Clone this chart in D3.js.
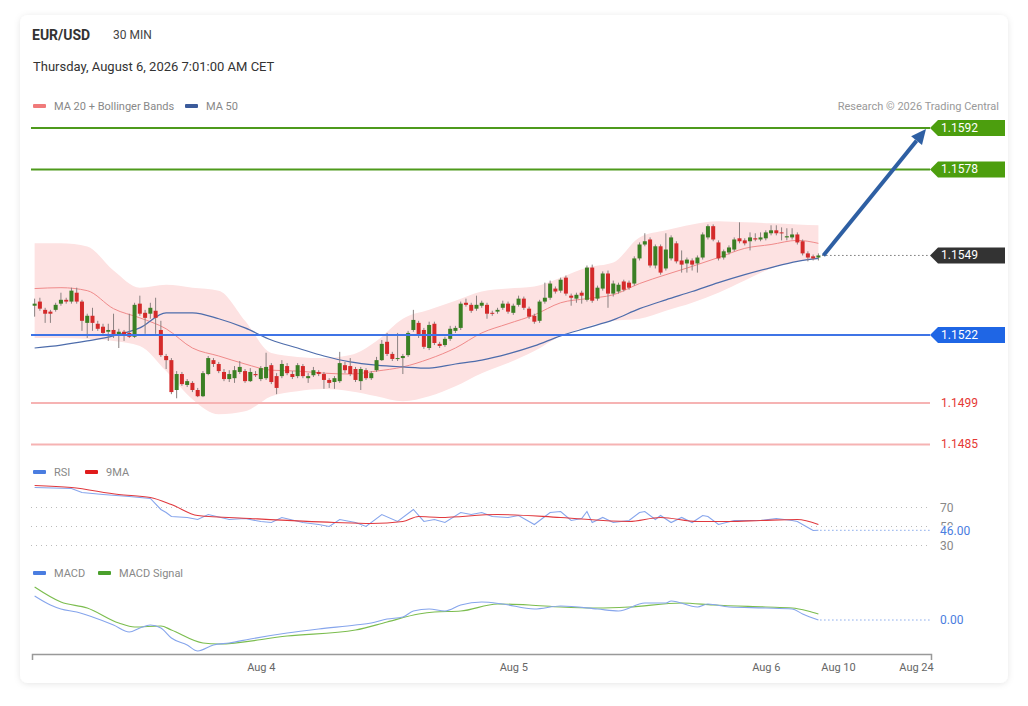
<!DOCTYPE html>
<html>
<head>
<meta charset="utf-8">
<script src="https://cdn.jsdelivr.net/npm/d3@7"></script>
<style>
  body { margin: 0; background: #fff; font-family: Roboto, "Liberation Sans", Arial, sans-serif; }
  svg { display: block; }
</style>
</head>
<body>
<svg class="chart" width="1028" height="706"></svg>
<script>
// 30 min candles, first one Aug 3 02:30
let opens = [
  1.15319, 1.15333, 1.15305, 1.15299, 1.15305, 1.15326, 1.15339, 1.15333, 1.15363, 1.15333,
  1.15261, 1.15285, 1.15258, 1.15248, 1.15231, 1.15237, 1.15220, 1.15231, 1.15227, 1.15214,
  1.15326, 1.15295, 1.15292, 1.15302, 1.15237, 1.15149, 1.15135, 1.15034, 1.15088, 1.15051,
  1.15058, 1.15034, 1.15013, 1.15088, 1.15135, 1.15122, 1.15095, 1.15071, 1.15074, 1.15095,
  1.15098, 1.15064, 1.15088, 1.15071, 1.15074, 1.15118, 1.15081, 1.15081, 1.15115, 1.15088,
  1.15081, 1.15115, 1.15074, 1.15084, 1.15095, 1.15088, 1.15068, 1.15061, 1.15064, 1.15118,
  1.15115, 1.15105, 1.15064, 1.15101, 1.15074, 1.15101, 1.15135, 1.15197, 1.15156, 1.15139,
  1.15142, 1.15152, 1.15237, 1.15261, 1.15237, 1.15176, 1.15258, 1.15190, 1.15186, 1.15207,
  1.15234, 1.15244, 1.15329, 1.15322, 1.15309, 1.15319, 1.15322, 1.15295, 1.15299, 1.15312,
  1.15326, 1.15295, 1.15322, 1.15343, 1.15309, 1.15285, 1.15268, 1.15333, 1.15346, 1.15377,
  1.15370, 1.15414, 1.15353, 1.15343, 1.15363, 1.15339, 1.15448, 1.15343, 1.15377, 1.15428,
  1.15360, 1.15367, 1.15401, 1.15397, 1.15394, 1.15479, 1.15526, 1.15543, 1.15455, 1.15520,
  1.15445, 1.15479, 1.15530, 1.15472, 1.15462, 1.15472, 1.15462, 1.15482, 1.15550, 1.15588,
  1.15533, 1.15482, 1.15499, 1.15509, 1.15547, 1.15540, 1.15537, 1.15547, 1.15543, 1.15547,
  1.15564, 1.15574, 1.15567, 1.15550, 1.15550, 1.15560, 1.15537, 1.15496, 1.15486, 1.15482
];
let highs = [
  1.15343, 1.15346, 1.15312, 1.15305, 1.15329, 1.15363, 1.15346, 1.15380, 1.15380, 1.15339,
  1.15292, 1.15312, 1.15268, 1.15258, 1.15258, 1.15292, 1.15241, 1.15237, 1.15292, 1.15329,
  1.15353, 1.15305, 1.15329, 1.15346, 1.15268, 1.15156, 1.15142, 1.15098, 1.15095, 1.15071,
  1.15064, 1.15041, 1.15098, 1.15149, 1.15142, 1.15129, 1.15105, 1.15101, 1.15115, 1.15132,
  1.15105, 1.15108, 1.15098, 1.15115, 1.15160, 1.15125, 1.15091, 1.15135, 1.15125, 1.15098,
  1.15125, 1.15122, 1.15091, 1.15112, 1.15101, 1.15095, 1.15074, 1.15081, 1.15163, 1.15129,
  1.15142, 1.15112, 1.15112, 1.15108, 1.15098, 1.15146, 1.15203, 1.15227, 1.15163, 1.15227,
  1.15156, 1.15234, 1.15305, 1.15268, 1.15244, 1.15265, 1.15265, 1.15197, 1.15214, 1.15251,
  1.15251, 1.15333, 1.15343, 1.15329, 1.15353, 1.15336, 1.15329, 1.15302, 1.15312, 1.15336,
  1.15333, 1.15326, 1.15353, 1.15350, 1.15316, 1.15292, 1.15339, 1.15397, 1.15404, 1.15384,
  1.15414, 1.15421, 1.15360, 1.15363, 1.15370, 1.15455, 1.15458, 1.15387, 1.15435, 1.15438,
  1.15404, 1.15397, 1.15407, 1.15404, 1.15486, 1.15533, 1.15564, 1.15550, 1.15526, 1.15526,
  1.15564, 1.15557, 1.15537, 1.15506, 1.15482, 1.15479, 1.15489, 1.15567, 1.15594, 1.15594,
  1.15540, 1.15509, 1.15523, 1.15550, 1.15601, 1.15547, 1.15567, 1.15564, 1.15567, 1.15574,
  1.15591, 1.15591, 1.15584, 1.15581, 1.15581, 1.15567, 1.15543, 1.15503, 1.15492, 1.15496
];
let lows = [
  1.15282, 1.15302, 1.15261, 1.15261, 1.15299, 1.15319, 1.15326, 1.15326, 1.15326, 1.15234,
  1.15210, 1.15234, 1.15234, 1.15220, 1.15200, 1.15210, 1.15176, 1.15200, 1.15210, 1.15210,
  1.15285, 1.15224, 1.15275, 1.15224, 1.15146, 1.15105, 1.15020, 1.15006, 1.15048, 1.15044,
  1.15027, 1.15010, 1.15010, 1.15084, 1.15112, 1.15091, 1.15064, 1.15061, 1.15058, 1.15088,
  1.15058, 1.15061, 1.15078, 1.15064, 1.15068, 1.15054, 1.15020, 1.15074, 1.15084, 1.15071,
  1.15074, 1.15074, 1.15058, 1.15078, 1.15081, 1.15038, 1.15041, 1.15038, 1.15058, 1.15091,
  1.15081, 1.15061, 1.15034, 1.15068, 1.15068, 1.15095, 1.15132, 1.15149, 1.15132, 1.15132,
  1.15088, 1.15146, 1.15231, 1.15210, 1.15173, 1.15169, 1.15186, 1.15176, 1.15180, 1.15200,
  1.15227, 1.15237, 1.15316, 1.15295, 1.15302, 1.15312, 1.15275, 1.15285, 1.15292, 1.15305,
  1.15292, 1.15288, 1.15316, 1.15305, 1.15275, 1.15258, 1.15261, 1.15326, 1.15339, 1.15360,
  1.15363, 1.15353, 1.15319, 1.15329, 1.15326, 1.15333, 1.15329, 1.15336, 1.15370, 1.15312,
  1.15350, 1.15360, 1.15367, 1.15373, 1.15387, 1.15472, 1.15520, 1.15448, 1.15445, 1.15424,
  1.15438, 1.15472, 1.15462, 1.15431, 1.15431, 1.15438, 1.15431, 1.15475, 1.15543, 1.15537,
  1.15472, 1.15475, 1.15492, 1.15503, 1.15530, 1.15523, 1.15506, 1.15537, 1.15537, 1.15540,
  1.15557, 1.15557, 1.15540, 1.15540, 1.15543, 1.15526, 1.15489, 1.15469, 1.15472, 1.15472
];
let closes = [
  1.15326, 1.15309, 1.15292, 1.15292, 1.15322, 1.15339, 1.15333, 1.15370, 1.15333, 1.15268,
  1.15285, 1.15261, 1.15241, 1.15227, 1.15237, 1.15217, 1.15231, 1.15217, 1.15214, 1.15322,
  1.15292, 1.15278, 1.15312, 1.15278, 1.15152, 1.15135, 1.15027, 1.15088, 1.15054, 1.15064,
  1.15034, 1.15013, 1.15091, 1.15142, 1.15122, 1.15098, 1.15071, 1.15088, 1.15101, 1.15112,
  1.15064, 1.15095, 1.15084, 1.15108, 1.15112, 1.15061, 1.15041, 1.15122, 1.15091, 1.15078,
  1.15118, 1.15081, 1.15081, 1.15101, 1.15088, 1.15068, 1.15058, 1.15074, 1.15125, 1.15101,
  1.15088, 1.15068, 1.15105, 1.15074, 1.15091, 1.15135, 1.15190, 1.15156, 1.15139, 1.15142,
  1.15149, 1.15227, 1.15271, 1.15217, 1.15180, 1.15254, 1.15193, 1.15183, 1.15207, 1.15241,
  1.15244, 1.15326, 1.15322, 1.15302, 1.15322, 1.15329, 1.15292, 1.15292, 1.15305, 1.15326,
  1.15299, 1.15319, 1.15343, 1.15312, 1.15282, 1.15265, 1.15333, 1.15346, 1.15394, 1.15367,
  1.15407, 1.15360, 1.15346, 1.15356, 1.15353, 1.15448, 1.15336, 1.15380, 1.15428, 1.15360,
  1.15394, 1.15390, 1.15373, 1.15380, 1.15479, 1.15526, 1.15537, 1.15455, 1.15520, 1.15431,
  1.15509, 1.15550, 1.15469, 1.15458, 1.15475, 1.15458, 1.15482, 1.15560, 1.15588, 1.15543,
  1.15479, 1.15503, 1.15516, 1.15543, 1.15537, 1.15530, 1.15550, 1.15543, 1.15550, 1.15567,
  1.15574, 1.15564, 1.15564, 1.15554, 1.15560, 1.15533, 1.15496, 1.15482, 1.15479, 1.15489
];

// indicator lines, read every 5th candle
let lineIdx = [0, 5, 10, 15, 20, 25, 30, 35, 40, 45, 50, 55, 60, 65, 70, 75, 80, 85, 90, 95,
  100, 105, 110, 115, 120, 125, 130, 135, 140, 145, 149];
let ma20 = [1.15377, 1.15380, 1.15370, 1.15309, 1.15278, 1.15241, 1.15176, 1.15149, 1.15122, 1.15101,
  1.15098, 1.15091, 1.15088, 1.15098, 1.15112, 1.15139, 1.15176, 1.15227, 1.15258, 1.15288,
  1.15329, 1.15343, 1.15356, 1.15394, 1.15424, 1.15452, 1.15482, 1.15513, 1.15526, 1.15540, 1.15530];
let ma50 = [1.15176, 1.15186, 1.15200, 1.15217, 1.15244, 1.15295, 1.15295, 1.15275, 1.15244, 1.15203,
  1.15176, 1.15149, 1.15129, 1.15118, 1.15112, 1.15108, 1.15122, 1.15135, 1.15156, 1.15183,
  1.15217, 1.15244, 1.15271, 1.15309, 1.15339, 1.15367, 1.15397, 1.15424, 1.15448, 1.15469, 1.15479];
let bbUpper = [1.15530, 1.15530, 1.15519, 1.15438, 1.15380, 1.15390, 1.15380, 1.15370, 1.15268, 1.15159,
  1.15146, 1.15142, 1.15152, 1.15200, 1.15275, 1.15305, 1.15336, 1.15367, 1.15377, 1.15384,
  1.15414, 1.15448, 1.15465, 1.15550, 1.15574, 1.15594, 1.15605, 1.15601, 1.15598, 1.15594, 1.15591];
let bbLower = [1.15210, 1.15210, 1.15207, 1.15200, 1.15183, 1.15098, 1.15003, 1.14952, 1.14962, 1.15013,
  1.15030, 1.15037, 1.15030, 1.15013, 1.14996, 1.15013, 1.15047, 1.15091, 1.15125, 1.15166,
  1.15217, 1.15248, 1.15268, 1.15275, 1.15302, 1.15329, 1.15363, 1.15404, 1.15445, 1.15469, 1.15475];

// RSI + its 9 period MA
let rsiIdx = [0, 7, 9, 13, 18, 22, 24, 25, 26, 29, 31, 33, 37, 40, 43, 45, 47, 51, 54, 56,
  58, 61, 63, 66, 69, 72, 74, 76, 78, 81, 83, 85, 87, 90, 92, 95, 98, 100, 102, 104,
  105, 106, 108, 110, 113, 115, 116, 118, 119, 121, 123, 125, 127, 128, 130, 133, 138, 141, 144, 145,
  147, 148, 149];
let rsiVals = [91.1, 90.0, 85.8, 83.7, 81.6, 79.5, 67.9, 64.7, 60.5, 59.5, 57.4, 62.6, 57.4, 58.4, 55.3, 54.2, 59.5, 54.2, 52.1, 50.0,
  57.4, 54.2, 50.0, 62.6, 55.3, 67.9, 55.3, 57.4, 54.2, 64.7, 62.6, 64.7, 60.5, 59.5, 61.6, 52.1, 64.7, 65.8, 56.3, 58.4,
  65.8, 54.2, 59.5, 54.2, 56.3, 64.7, 65.8, 57.4, 61.6, 54.2, 59.5, 54.2, 61.6, 60.5, 52.1, 56.3, 56.3, 58.4, 56.3, 55.3,
  48.9, 45.8, 46.0];
let rsiMaIdx = [0, 7, 16, 22, 26, 31, 41, 57, 64, 70, 73, 77, 88, 100, 113, 119, 126, 132, 138, 145, 149];
let rsiMaVals = [93.2, 91.1, 83.7, 80.5, 73.2, 61.6, 58.4, 54.2, 53.2, 55.3, 60.5, 59.5, 62.6, 59.5, 55.3, 59.5, 55.3, 55.3, 56.3, 57.4, 52.1];
let rsiLevels = [70, 50, 30];

// MACD
let macdIdx = [0, 3, 5, 8, 11, 15, 18, 20, 22, 24, 26, 29, 31, 34, 37, 41, 48, 54, 61, 64,
  67, 70, 72, 75, 78, 81, 85, 89, 95, 100, 107, 111, 116, 120, 121, 126, 128, 132, 139, 144,
  146, 149];
let macdVals = [0.000120, 0.000075, 0.000055, 0.000040, 0.000015, -0.000025, -0.000060, -0.000040, -0.000025, -0.000040,
  -0.000090, -0.000125, -0.000155, -0.000125, -0.000115, -0.000095, -0.000065, -0.000045, -0.000025, -0.000015,
  0.000005, 0.000015, 0.000045, 0.000055, 0.000045, 0.000075, 0.000090, 0.000080, 0.000055, 0.000070,
  0.000055, 0.000045, 0.000085, 0.000085, 0.000095, 0.000065, 0.000080, 0.000065, 0.000060, 0.000055,
  0.000030, 0.000000];
let signalIdx = [0, 5, 10, 16, 19, 24, 26, 32, 35, 48, 61, 67, 73, 76, 81, 88, 94, 100, 107, 113,
  123, 129, 139, 144, 147, 149];
let signalVals = [0.000165, 0.000090, 0.000060, -0.000015, -0.000035, -0.000030, -0.000050, -0.000115, -0.000120, -0.000080,
  -0.000050, -0.000010, 0.000030, 0.000040, 0.000045, 0.000080, 0.000075, 0.000065, 0.000060, 0.000065,
  0.000085, 0.000075, 0.000065, 0.000060, 0.000045, 0.000030];

// key levels
let resistances = [1.1592, 1.1578];
let pivot = 1.1522;
let supports = [1.1499, 1.1485];
let tickDates = [new Date(2026, 7, 4), new Date(2026, 7, 5), new Date(2026, 7, 6), new Date(2026, 7, 10), new Date(2026, 7, 24)];

let svg = d3.select(".chart");
let green = "#3b7f24", red = "#d42a2a";
let lineLeft = 31, labelX = 930;

// card
let filter = svg.append("defs").append("filter").attr("id", "shadow")
  .attr("x", "-5%").attr("y", "-5%").attr("width", "110%").attr("height", "110%");
filter.append("feDropShadow").attr("dx", 0).attr("dy", 1).attr("stdDeviation", 3)
  .attr("flood-color", "#000").attr("flood-opacity", 0.1);
svg.append("rect").attr("x", 20).attr("y", 15).attr("width", 988).attr("height", 668)
  .attr("rx", 8).attr("fill", "#fff").attr("filter", "url(#shadow)");

// header
svg.append("text").attr("x", 32).attr("y", 40).attr("font-size", 14).attr("font-weight", "bold")
  .attr("fill", "#333").text("EUR/USD");
svg.append("text").attr("x", 113).attr("y", 39).attr("font-size", 12).attr("fill", "#444").text("30 MIN");
svg.append("text").attr("x", 33).attr("y", 71).attr("font-size", 13).attr("fill", "#333")
  .text("Thursday, August 6, 2026 7:01:00 AM CET");
svg.append("text").attr("x", 999).attr("y", 110).attr("font-size", 11).attr("fill", "#999")
  .attr("text-anchor", "end").text("Research © 2026 Trading Central");

function legend(items, y) {
  items.forEach(it => {
    svg.append("rect").attr("x", it.x).attr("y", y - 6).attr("width", 13).attr("height", 4)
      .attr("rx", 1).attr("fill", it.color);
    svg.append("text").attr("x", it.x + 21).attr("y", y).attr("font-size", 11)
      .attr("fill", "#888").text(it.label);
  });
}
legend([{x: 33, color: "#f07a7a", label: "MA 20 + Bollinger Bands"}, {x: 185, color: "#3b5b9b", label: "MA 50"}], 110);
legend([{x: 33, color: "#4a7de0", label: "RSI"}, {x: 85, color: "#e01b1b", label: "9MA"}], 476);
legend([{x: 33, color: "#4a7de0", label: "MACD"}, {x: 98, color: "#4aa02c", label: "MACD Signal"}], 577);

// scales
let step = 30 * 60 * 1000;
let start = new Date(2026, 7, 3, 2, 30);
let times = opens.map((d, i) => new Date(+start + i * step));
let lastTime = times[times.length - 1];
let xScale = d3.scaleTime()
  .domain([new Date(+start - step / 2), lastTime, new Date(2026, 7, 10), new Date(2026, 7, 24), new Date(2026, 7, 27, 12)])
  .range([32, 818.4, 838, 916, 931]);
let yScale = d3.scaleLinear().domain([1.1522, 1.1592]).range([335, 128]);
let rsiScale = d3.scaleLinear().domain([30, 70]).range([545.5, 507.5]);
let macdScale = d3.scaleLinear().domain([0, 0.001]).range([620, 420]);

let xAt = i => xScale(times[i]);

// bollinger band + moving averages
let band = lineIdx.map((i, k) => ({i: i, hi: bbUpper[k], lo: bbLower[k]}));
svg.append("path").datum(band)
  .attr("d", d3.area().x(d => xAt(d.i)).y0(d => yScale(d.lo)).y1(d => yScale(d.hi)).curve(d3.curveMonotoneX))
  .attr("fill", "#fde2e2");

let priceLine = d3.line().x(d => xAt(d[0])).y(d => yScale(d[1])).curve(d3.curveMonotoneX);
svg.append("path").datum(lineIdx.map((i, k) => [i, ma20[k]])).attr("d", priceLine)
  .attr("fill", "none").attr("stroke", "#f08a8a").attr("stroke-width", 1);
svg.append("path").datum(lineIdx.map((i, k) => [i, ma50[k]])).attr("d", priceLine)
  .attr("fill", "none").attr("stroke", "#4d6cab").attr("stroke-width", 1.2);

// candles
let candles = svg.append("g").attr("id", "candles");
let cg = candles.selectAll("g").data(opens).enter().append("g");
cg.append("line")
  .attr("x1", (d, i) => xAt(i)).attr("x2", (d, i) => xAt(i))
  .attr("y1", (d, i) => yScale(highs[i])).attr("y2", (d, i) => yScale(lows[i]))
  .attr("stroke", "#8a8080").attr("stroke-width", 1);
cg.append("rect")
  .attr("x", (d, i) => xAt(i) - 2)
  .attr("width", 4)
  .attr("y", (d, i) => yScale(Math.max(opens[i], closes[i])))
  .attr("height", (d, i) => Math.max(1, Math.abs(yScale(opens[i]) - yScale(closes[i]))))
  .attr("fill", (d, i) => closes[i] >= opens[i] ? green : red);

// level lines
resistances.forEach(v => {
  svg.append("line").attr("x1", lineLeft).attr("x2", labelX).attr("y1", yScale(v)).attr("y2", yScale(v))
    .attr("stroke", "#4e9a1c").attr("stroke-width", 2);
});
svg.append("line").attr("x1", lineLeft).attr("x2", labelX).attr("y1", yScale(pivot)).attr("y2", yScale(pivot))
  .attr("stroke", "#3f74e6").attr("stroke-width", 2);
supports.forEach(v => {
  svg.append("line").attr("x1", lineLeft).attr("x2", labelX).attr("y1", yScale(v)).attr("y2", yScale(v))
    .attr("stroke", "#f6b3b3").attr("stroke-width", 2);
});
let lastClose = closes[closes.length - 1];
svg.append("line").attr("x1", xAt(closes.length - 1) + 4).attr("x2", labelX)
  .attr("y1", yScale(lastClose)).attr("y2", yScale(lastClose))
  .attr("stroke", "#333").attr("stroke-width", 1).attr("stroke-dasharray", "1,3");

function tag(v, fill) {
  let yy = yScale(v);
  svg.append("path")
    .attr("d", `M${labelX},${yy} L${labelX + 8},${yy - 8} H1005 V${yy + 8} H${labelX + 8} Z`)
    .attr("fill", fill);
  svg.append("text").attr("x", labelX + 11).attr("y", yy + 4).attr("font-size", 12)
    .attr("fill", "#fff").text(v.toFixed(4));
}
resistances.forEach(v => tag(v, "#4c9e0e"));
tag(lastClose, "#333");
tag(pivot, "#1f66e5");
supports.forEach(v => {
  svg.append("text").attr("x", labelX + 11).attr("y", yScale(v) + 4).attr("font-size", 12)
    .attr("fill", "#e53935").text(v.toFixed(4));
});

// target arrow
let ax0 = xAt(closes.length - 1) + 5, ay0 = yScale(lastClose);
let ax1 = labelX - 4, ay1 = yScale(resistances[0]) + 1;
let ang = Math.atan2(ay1 - ay0, ax1 - ax0);
let headLen = 15, headW = 7;
let bx = ax1 - headLen * Math.cos(ang), by = ay1 - headLen * Math.sin(ang);
svg.append("line").attr("x1", ax0).attr("y1", ay0).attr("x2", bx).attr("y2", by)
  .attr("stroke", "#2e5fa3").attr("stroke-width", 4);
svg.append("path")
  .attr("d", `M${ax1},${ay1} L${bx + headW * Math.sin(ang)},${by - headW * Math.cos(ang)} L${bx - headW * Math.sin(ang)},${by + headW * Math.cos(ang)} Z`)
  .attr("fill", "#2e5fa3");

// RSI panel
rsiLevels.forEach(v => {
  svg.append("line").attr("x1", lineLeft).attr("x2", labelX).attr("y1", rsiScale(v)).attr("y2", rsiScale(v))
    .attr("stroke", "#bbb").attr("stroke-width", 1).attr("stroke-dasharray", "1,4");
  svg.append("text").attr("x", labelX + 10).attr("y", rsiScale(v) + 4).attr("font-size", 12)
    .attr("fill", "#888").text(v);
});
let rsiLine = d3.line().x(d => xAt(d[0])).y(d => rsiScale(d[1]));
svg.append("path").datum(rsiIdx.map((i, k) => [i, rsiVals[k]])).attr("d", rsiLine)
  .attr("fill", "none").attr("stroke", "#86a5ec").attr("stroke-width", 1.1);
svg.append("path").datum(rsiMaIdx.map((i, k) => [i, rsiMaVals[k]])).attr("d", rsiLine.curve(d3.curveMonotoneX))
  .attr("fill", "none").attr("stroke", "#e0393e").attr("stroke-width", 1.1);
let lastRsi = rsiVals[rsiVals.length - 1];
svg.append("line").attr("x1", xAt(closes.length - 1) + 2).attr("x2", labelX)
  .attr("y1", rsiScale(lastRsi)).attr("y2", rsiScale(lastRsi))
  .attr("stroke", "#4a7de0").attr("stroke-width", 1).attr("stroke-dasharray", "1,3");
svg.append("rect").attr("x", labelX + 8).attr("y", rsiScale(lastRsi) - 5).attr("width", 40).attr("height", 12).attr("fill", "#fff");
svg.append("text").attr("x", labelX + 10).attr("y", rsiScale(lastRsi) + 5).attr("font-size", 12)
  .attr("fill", "#4a7de0").text(lastRsi.toFixed(2));

// MACD panel
let macdLine = d3.line().x(d => xAt(d[0])).y(d => macdScale(d[1])).curve(d3.curveMonotoneX);
svg.append("path").datum(signalIdx.map((i, k) => [i, signalVals[k]])).attr("d", macdLine)
  .attr("fill", "none").attr("stroke", "#7cbd4f").attr("stroke-width", 1.2);
svg.append("path").datum(macdIdx.map((i, k) => [i, macdVals[k]])).attr("d", macdLine)
  .attr("fill", "none").attr("stroke", "#86a5ec").attr("stroke-width", 1.1);
let lastMacd = macdVals[macdVals.length - 1];
svg.append("line").attr("x1", xAt(closes.length - 1) + 2).attr("x2", labelX)
  .attr("y1", macdScale(lastMacd)).attr("y2", macdScale(lastMacd))
  .attr("stroke", "#4a7de0").attr("stroke-width", 1).attr("stroke-dasharray", "1,3");
svg.append("text").attr("x", labelX + 10).attr("y", macdScale(lastMacd) + 4).attr("font-size", 12)
  .attr("fill", "#4a7de0").text(lastMacd.toFixed(2));

// x axis
let xAxis = d3.axisBottom(xScale).tickValues(tickDates).tickFormat(d3.timeFormat("%b %-d"))
  .tickSizeInner(0).tickSizeOuter(6).tickPadding(9);
let xGroup = svg.append("g").attr("transform", "translate(0,654)").call(xAxis);
xGroup.select(".domain").attr("stroke", "#999").attr("stroke-width", 1.5);
xGroup.selectAll("text").attr("font-size", 11).attr("fill", "#666")
  .attr("font-family", "Roboto, 'Liberation Sans', Arial, sans-serif");
</script>
</body>
</html>
